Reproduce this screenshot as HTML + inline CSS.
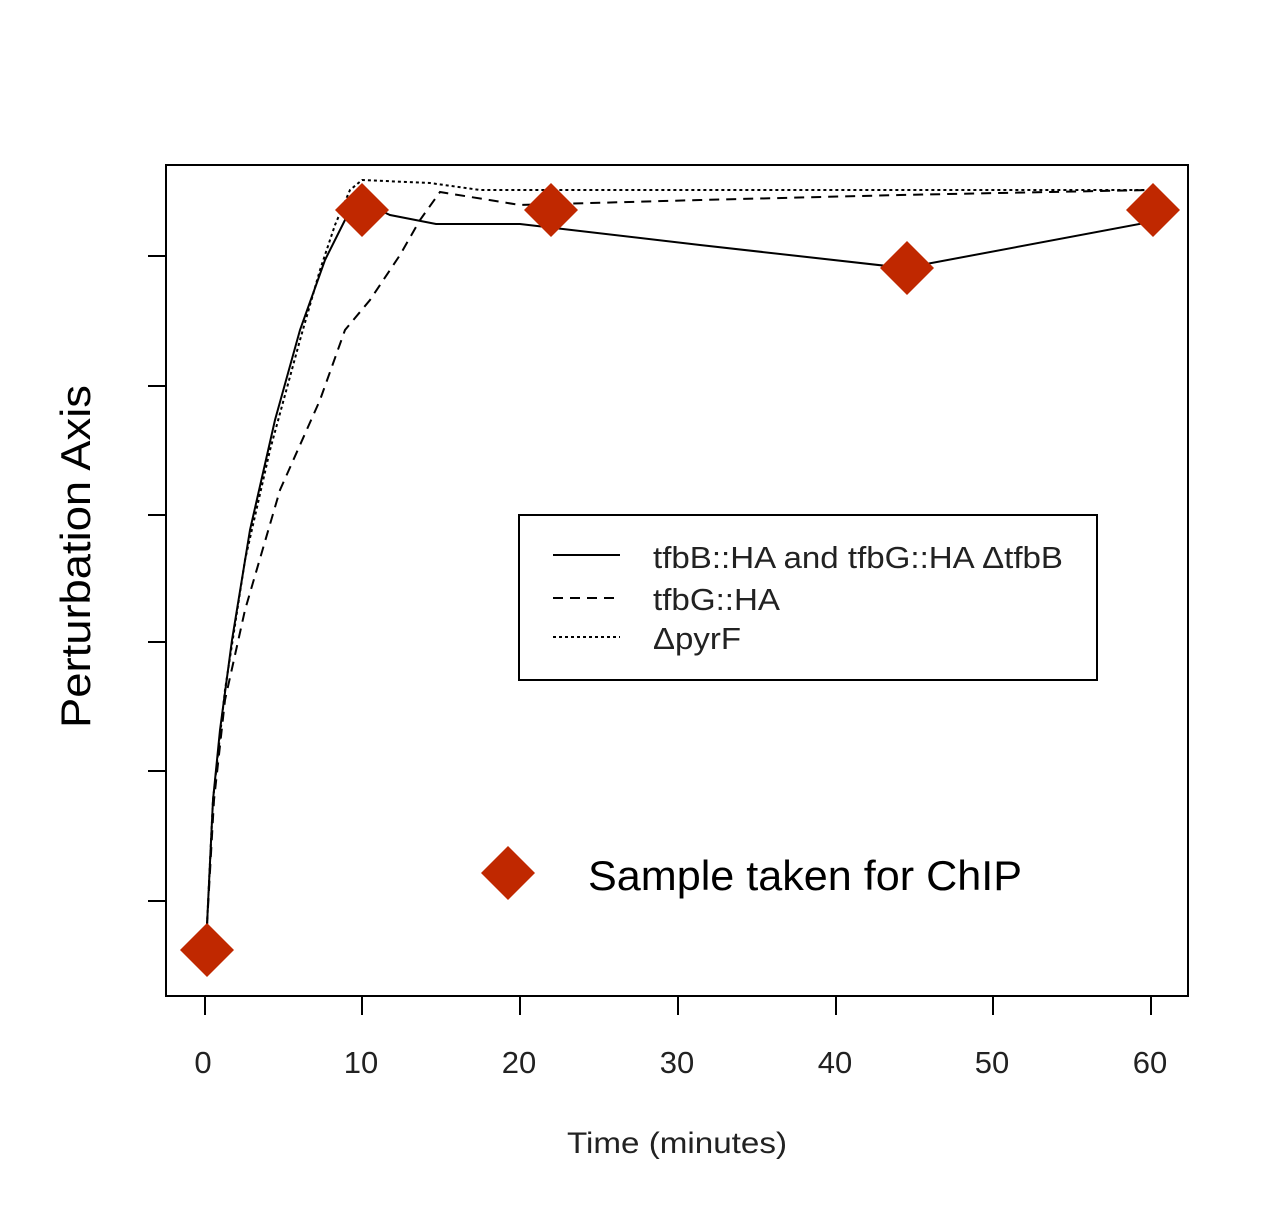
<!DOCTYPE html>
<html><head><style>body{margin:0;background:#fff}</style></head><body>
<svg width="1275" height="1204" xmlns="http://www.w3.org/2000/svg" font-family="Liberation Sans, sans-serif">
<rect x="166" y="165" width="1022" height="831" fill="none" stroke="#000" stroke-width="2"/>
<g stroke="#000" stroke-width="2">
<line x1="148" y1="256" x2="166" y2="256"/><line x1="148" y1="386" x2="166" y2="386"/>
<line x1="148" y1="515" x2="166" y2="515"/><line x1="148" y1="642" x2="166" y2="642"/>
<line x1="148" y1="771" x2="166" y2="771"/><line x1="148" y1="901" x2="166" y2="901"/>
<line x1="205" y1="996" x2="205" y2="1015"/><line x1="362" y1="996" x2="362" y2="1015"/>
<line x1="520" y1="996" x2="520" y2="1015"/><line x1="678" y1="996" x2="678" y2="1015"/>
<line x1="836" y1="996" x2="836" y2="1015"/><line x1="993" y1="996" x2="993" y2="1015"/>
<line x1="1151" y1="996" x2="1151" y2="1015"/>
</g>
<g font-size="31" fill="#222" text-anchor="middle">
<text x="203" y="1073">0</text><text x="361" y="1073">10</text><text x="519" y="1073">20</text>
<text x="677" y="1073">30</text><text x="835" y="1073">40</text><text x="992" y="1073">50</text>
<text x="1150" y="1073">60</text>
</g>
<text x="567" y="1153" font-size="30" fill="#222" textLength="220" lengthAdjust="spacingAndGlyphs">Time (minutes)</text>
<text transform="translate(90,728) rotate(-90)" font-size="42" fill="#000" textLength="343" lengthAdjust="spacingAndGlyphs">Perturbation Axis</text>
<g fill="none" stroke="#000" stroke-width="2">
<polyline points="207,925 213,800 220,730 232,640 250,530 275,420 300,330 325,260 345,220 362,202 390,215 436,224 520,224 700,245 905,268 1150,222"/>
<polyline stroke-dasharray="10,7" points="207,925 214,800 225,700 245,610 280,490 320,400 345,330 370,300 400,255 420,220 440,192 520,205 700,200 900,195 1150,190"/>
<polyline stroke-dasharray="3,3" points="207,925 213,800 225,690 245,560 270,450 300,340 320,270 335,225 350,190 362,180 430,183 480,190 1150,190"/>
</g>
<g fill="#c02800">
<polygon points="207,923 234,950 207,977 180,950"/>
<polygon points="362,183 389,210 362,237 335,210"/>
<polygon points="551,183 578,210 551,237 524,210"/>
<polygon points="907,241 934,268 907,295 880,268"/>
<polygon points="1153,183 1180,210 1153,237 1126,210"/>
<polygon points="508,846 535,873 508,900 481,873"/>
</g>
<rect x="519" y="515" width="578" height="165" fill="#fff" stroke="#000" stroke-width="2"/>
<g stroke="#000" stroke-width="2">
<line x1="553" y1="555" x2="620" y2="555"/>
<line x1="553" y1="598" x2="620" y2="598" stroke-dasharray="10,7"/>
<line x1="553" y1="637" x2="620" y2="637" stroke-dasharray="3,3"/>
</g>
<g font-size="31" fill="#222">
<text x="653" y="568" textLength="410" lengthAdjust="spacingAndGlyphs">tfbB::HA and tfbG::HA ΔtfbB</text>
<text x="653" y="610" textLength="127" lengthAdjust="spacingAndGlyphs">tfbG::HA</text>
<text x="653" y="649" textLength="88" lengthAdjust="spacingAndGlyphs">ΔpyrF</text>
</g>
<text x="588" y="890" font-size="42" fill="#000" textLength="434" lengthAdjust="spacingAndGlyphs">Sample taken for ChIP</text>
</svg>
</body></html>
